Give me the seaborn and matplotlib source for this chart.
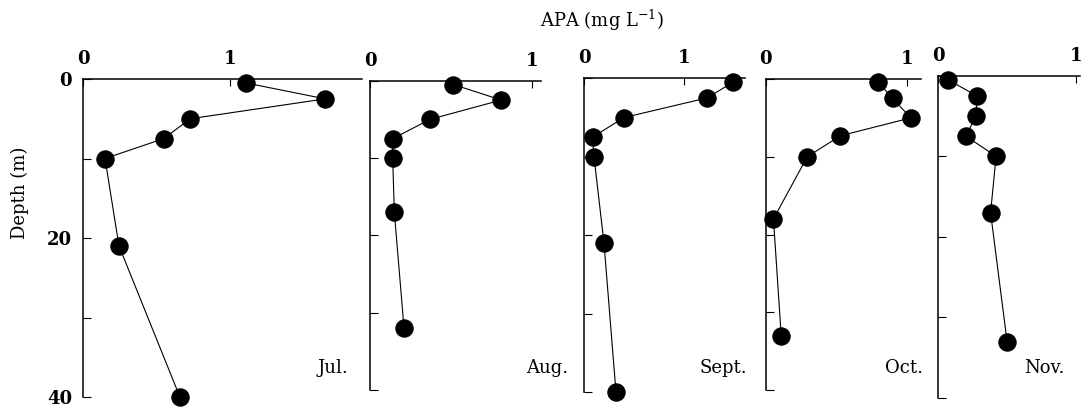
import matplotlib
matplotlib.use("Agg")
import matplotlib.pyplot as plt
import seaborn as sns
import pandas as pd

# ---- data (APA in mg/L, depth in m) ----
months = ["Jul.", "Aug.", "Sept.", "Oct.", "Nov."]
jul_depth = [0.5, 2.5, 5, 7.5, 10, 21, 40]
jul_apa = [1.11, 1.65, 0.73, 0.55, 0.15, 0.245, 0.66]
aug_depth = [0.5, 2.5, 5, 7.5, 10, 17, 32]
aug_apa = [0.515, 0.81, 0.37, 0.14, 0.14, 0.15, 0.21]
sep_depth = [0.5, 2.5, 5, 7.5, 10, 21, 40]
sep_apa = [1.49, 1.23, 0.40, 0.085, 0.10, 0.20, 0.32]
oct_depth = [0.4, 2.5, 5, 7.3, 10, 18, 33]
oct_apa = [0.80, 0.90, 1.03, 0.53, 0.295, 0.055, 0.11]
nov_depth = [0.5, 2.5, 5, 7.5, 10, 17, 33]
nov_apa = [0.07, 0.28, 0.275, 0.20, 0.42, 0.38, 0.50]
x_ticks = [0, 1]
depth_ticks = [0, 10, 20, 30, 40]
depth_labels = ["0", "", "20", "", "40"]

depths = [jul_depth, aug_depth, sep_depth, oct_depth, nov_depth]
apas = [jul_apa, aug_apa, sep_apa, oct_apa, nov_apa]

sns.set_style("white")
plt.rcParams["font.family"] = ["DejaVu Serif"]
plt.rcParams["mathtext.fontset"] = "dejavuserif"

W, H = 1082, 409
fig = plt.figure(figsize=(W / 100, H / 100), dpi=100)

# panel boxes in pixels: left, right, top, bottom ; x max
boxes = [
    (83, 362, 79, 397, 1.90),
    (370, 541, 80.7, 390, 1.055),
    (584, 745, 78.3, 392.3, 1.61),
    (765.7, 920.7, 79, 390, 1.10),
    (938.3, 1080, 75.7, 398, 1.03),
]
label_right = [348, 568, 747, 923, 1065]

for i, (L, R, T, B, xmax) in enumerate(boxes):
    ax = fig.add_axes([L / W, 1 - B / H, (R - L) / W, (B - T) / H])
    df = pd.DataFrame({"apa": apas[i], "depth": depths[i]})
    sns.lineplot(data=df, x="apa", y="depth", sort=False, estimator=None,
                 color="black", linewidth=0.8, marker="o", markersize=12.5,
                 markeredgecolor="black", markerfacecolor="black", ax=ax,
                 clip_on=False, zorder=3)
    ax.set_xlim(0, xmax)
    ax.set_ylim(40, 0)
    for s in ["right", "bottom"]:
        ax.spines[s].set_visible(False)
    for s in ["left", "top"]:
        ax.spines[s].set_linewidth(1.1)
        ax.spines[s].set_color("black")
    ax.xaxis.tick_top()
    ax.set_xticks(x_ticks)
    ax.set_xticklabels([str(t) for t in x_ticks], fontweight="bold")
    ax.tick_params(axis="x", direction="in", length=5, width=0.8, pad=8,
                   labelsize=13, colors="black", top=True, bottom=False)
    ax.set_yticks(depth_ticks)
    if i == 0:
        ax.set_yticklabels(depth_labels, fontweight="bold")
    else:
        ax.set_yticklabels([])
    ax.tick_params(axis="y", direction="in", length=6, width=0.8, pad=8,
                   labelsize=13, colors="black", left=True, right=False)
    ax.set_xlabel("")
    ax.set_ylabel("")
    ax.patch.set_alpha(0)
    fig.text(label_right[i] / W, 1 - 368 / H, months[i], ha="right", va="center",
             fontsize=13, color="black")

fig.text(602 / W, 1 - 20 / H, "APA (mg L$^{-1}$)", ha="center", va="center",
         fontsize=13, color="black")
fig.text(20 / W, 1 - 193 / H, "Depth (m)", ha="center", va="center",
         rotation=90, fontsize=13, color="black")

fig.savefig("out.png", dpi=100)
